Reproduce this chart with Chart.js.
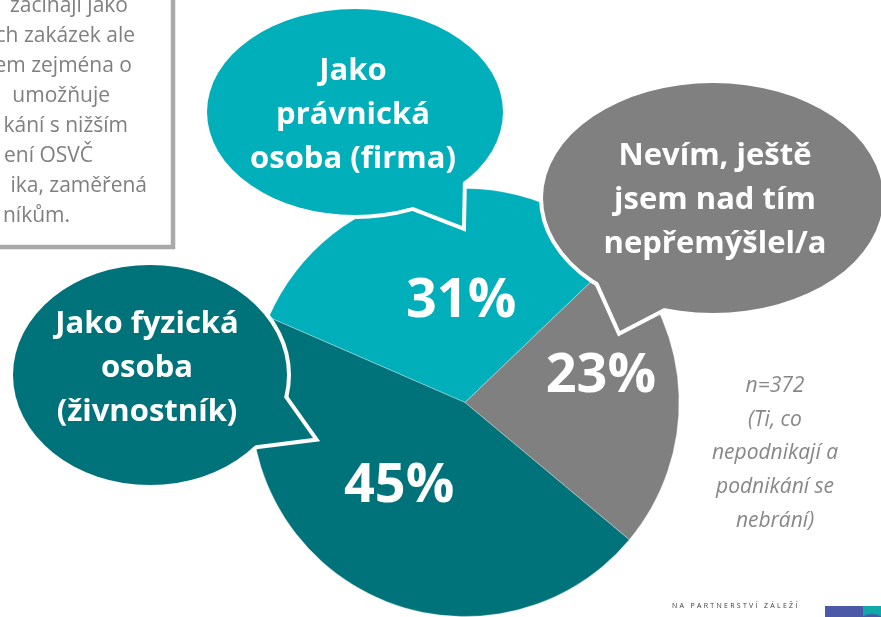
<!DOCTYPE html>
<html lang="cs">
<head>
<meta charset="utf-8">
<title>Forma podnikání</title>
<script src="https://cdn.jsdelivr.net/npm/chart.js@4.4.1/dist/chart.umd.min.js"></script>
<style>
  html, body { margin: 0; padding: 0; background: #fff; }
  canvas { display: block; }
</style>
</head>
<body>
<canvas id="graf" width="881" height="617"></canvas>
<script>
// data z grafu
const kategorie = ['Jako právnická osoba (firma)', 'Nevím, ještě jsem nad tím nepřemýšlel/a', 'Jako fyzická osoba (živnostník)'];
const podily = [31, 23, 45];
const bubliny = [
  ['Jako', 'právnická', 'osoba (firma)'],
  ['Nevím, ještě', 'jsem nad tím', 'nepřemýšlel/a'],
  ['Jako fyzická', 'osoba', '(živnostník)']
];
const poznamka = ['n=372', '(Ti, co', 'nepodnikají a', 'podnikání se', 'nebrání)'];
const textBoxu = ['začínají jako', 'ch zakázek ale', 'em zejména o', 'umožňuje', 'kání s nižším', 'ení OSVČ', 'ika, zaměřená', 'níkům.'];
const paticka = 'NA PARTNERSTVÍ ZÁLEŽÍ';

const barvy = ['#00AFB9', '#808080', '#00737A'];

// tvar bublin (elipsa + ocas)
const tvarBublin = [
  { cx: 355, cy: 112, rx: 148, ry: 103, ocas: [[408, 205], [462, 226], [463, 176]], x: 353, y0: 80 },
  { cx: 713, cy: 198, rx: 170, ry: 115, ocas: [[598, 282], [620, 331], [668, 306]], x: 715, y0: 165 },
  { cx: 150, cy: 375, rx: 137, ry: 110, ocas: [[281, 393], [313, 438], [250, 446]], x: 147, y0: 333 }
];
// posun popisku procent vuci stredu vysece
const posunPopisku = [{ uhel: 8, r: 0.49 }, { uhel: -10.5, r: 0.65 }, { uhel: 7.7, r: 0.485 }];
const boxPravy = [128, 135, 132, 110, 128, 93, 147, 70];

function elipsa(ctx, b) {
  ctx.beginPath();
  ctx.ellipse(b.cx, b.cy, b.rx, b.ry, 0, 0, Math.PI * 2);
}
function ocas(ctx, b) {
  ctx.beginPath();
  ctx.moveTo(b.ocas[0][0], b.ocas[0][1]);
  ctx.lineTo(b.ocas[1][0], b.ocas[1][1]);
  ctx.lineTo(b.ocas[2][0], b.ocas[2][1]);
  ctx.closePath();
}

const kresba = {
  id: 'kresba',
  afterDatasetsDraw(chart) {
    const ctx = chart.ctx;
    const meta = chart.getDatasetMeta(0);
    ctx.save();

    // popisky procent
    ctx.fillStyle = '#fff';
    ctx.font = 'bold 54px "Open Sans"';
    ctx.textAlign = 'center';
    ctx.textBaseline = 'alphabetic';
    meta.data.forEach((arc, i) => {
      const p = posunPopisku[i];
      const a = (arc.startAngle + arc.endAngle) / 2 + p.uhel * Math.PI / 180;
      const px = arc.x + Math.cos(a) * arc.outerRadius * p.r;
      const py = arc.y + Math.sin(a) * arc.outerRadius * p.r;
      ctx.fillText(podily[i] + '%', px, py + 19);
    });

    // bubliny
    tvarBublin.forEach((b, i) => {
      ctx.strokeStyle = '#fff';
      ctx.lineWidth = 8;
      ctx.lineJoin = 'miter';
      elipsa(ctx, b); ctx.stroke();
      ocas(ctx, b); ctx.stroke();
      ctx.fillStyle = barvy[i];
      elipsa(ctx, b); ctx.fill();
      ocas(ctx, b); ctx.fill();
      ctx.fillStyle = '#fff';
      ctx.font = 'bold 31px "Open Sans"';
      ctx.textAlign = 'center';
      bubliny[i].forEach((t, j) => ctx.fillText(t, b.x, b.y0 + j * 44));
    });

    // poznamka vpravo
    ctx.fillStyle = '#878787';
    ctx.font = 'italic 21px "Open Sans"';
    poznamka.forEach((t, j) => ctx.fillText(t, 775, 392 + j * 33.7));

    // textovy box vlevo nahore
    ctx.fillStyle = '#fff';
    ctx.fillRect(0, 0, 173, 247);
    ctx.strokeStyle = '#a9a9a9';
    ctx.lineWidth = 4.5;
    ctx.strokeRect(-10, -10, 183, 257);
    ctx.save();
    ctx.beginPath();
    ctx.rect(0, 0, 170, 244);
    ctx.clip();
    ctx.fillStyle = '#7f7f7f';
    ctx.font = '21px "Open Sans"';
    ctx.textAlign = 'right';
    textBoxu.forEach((t, j) => ctx.fillText(t, boxPravy[j], 12 + j * 30));
    ctx.restore();

    // paticka
    ctx.fillStyle = '#3a3a3a';
    ctx.font = '7px "Open Sans"';
    ctx.textAlign = 'left';
    ctx.letterSpacing = '2.3px';
    ctx.fillText(paticka, 672, 608);
    ctx.letterSpacing = '0px';
    ctx.fillStyle = '#4b59a6';
    ctx.fillRect(825, 606, 56, 11);
    ctx.fillStyle = '#11a8a8';
    ctx.fillRect(863, 606, 18, 11);
    ctx.fillStyle = '#4b59a6';
    ctx.beginPath();
    ctx.ellipse(872, 621, 12, 7, 0, Math.PI, Math.PI * 2);
    ctx.fill();

    ctx.restore();
  }
};

new Chart(document.querySelector('#graf'), {
  type: 'pie',
  data: {
    labels: kategorie,
    datasets: [{
      data: podily,
      backgroundColor: barvy,
      borderColor: 'rgba(255,255,255,0.3)',
      borderWidth: 1
    }]
  },
  options: {
    responsive: false,
    devicePixelRatio: 1,
    animation: false,
    rotation: -66.5,
    layout: { padding: { top: 188, bottom: 0, left: 250, right: 201 } },
    plugins: {
      legend: { display: false },
      tooltip: { enabled: false }
    }
  },
  plugins: [kresba]
});
</script>
</body>
</html>
